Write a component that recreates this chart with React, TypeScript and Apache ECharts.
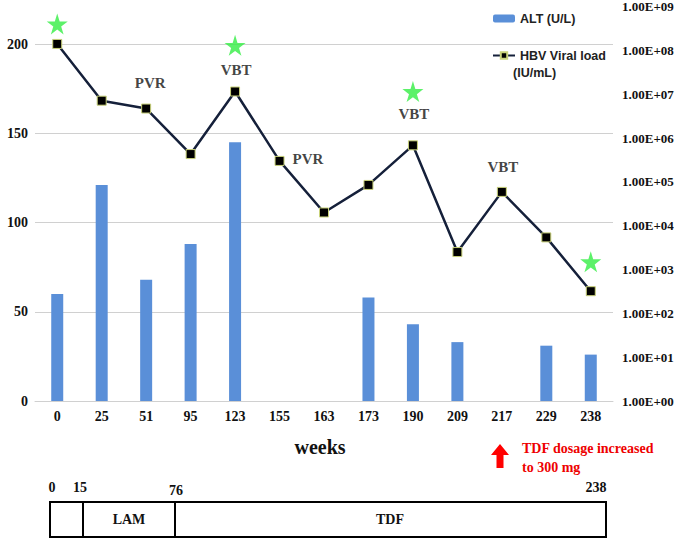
import React, { useEffect, useRef } from 'react';
import * as echarts from 'echarts';

const weeks = ['0', '25', '51', '95', '123', '155', '163', '173', '190', '209', '217', '229', '238'];
const altValues = [60, 121, 68, 88, 145, null, null, 58, 43, 33, null, 31, 26];
const viralLoad = [1.4e8, 7.1e6, 4.7e6, 4.3e5, 1.15e7, 3.0e5, 2.0e4, 8.5e4, 6.8e5, 2.5e3, 5.9e4, 5.4e3, 3.2e2];
const starWeeks = ['0', '123', '190', '238'];
const starLevels = [4.0e8, 1.3e8, 1.15e7, 1.5e3];
const noteWeeks = ['51', '123', '155', '190', '217'];
const noteTexts = ['PVR', 'VBT', 'PVR', 'VBT', 'VBT'];
const noteLevels = [1.8e7, 3.5e7, 3.3e5, 3.5e6, 2.2e5];
const timelineLabels = ['0', '15', '76', '238'];
const phaseLabels = ['LAM', 'TDF'];

const SERIF = '"Liberation Serif", "Times New Roman", serif';
const SANS = '"Liberation Sans", Arial, sans-serif';
const STAR = 'path://M50,0 L61,35 L98,35 L68,57 L79,91 L50,70 L21,91 L32,57 L2,35 L39,35 Z';
const GRID = '#d0d0d0';

export default function App() {
  const ref = useRef<HTMLDivElement>(null);
  useEffect(() => {
    const chart = echarts.init(ref.current!, null, { renderer: 'svg' });
    const tlX = [52, 80, 176, 596];
    const tlY = [487, 487, 490, 487];
    chart.setOption({
      animation: false,
      backgroundColor: '#ffffff',
      grid: { left: 35, right: 72, top: 3, bottom: 139 },
      legend: {
        orient: 'vertical',
        left: 487,
        top: 7,
        itemGap: 24,
        itemWidth: 22,
        itemHeight: 8,
        textStyle: { fontFamily: SANS, fontWeight: 'bold', fontSize: 12.5, color: '#222' },
        data: ['ALT (U/L)', 'HBV Viral load'],
      },
      xAxis: {
        type: 'category',
        data: weeks,
        axisTick: { show: false },
        axisLine: { show: true, lineStyle: { color: GRID, width: 1 } },
        axisLabel: { fontFamily: SERIF, fontWeight: 'bold', fontSize: 14, color: '#111', margin: 8 },
      },
      yAxis: [
        {
          type: 'value',
          min: 0,
          max: 221.1,
          interval: 50,
          axisLine: { show: false },
          axisTick: { show: false },
          splitLine: {
            show: true,
            lineStyle: { color: [GRID, GRID, GRID, GRID, GRID, 'rgba(0,0,0,0)'], width: 1 },
          },
          axisLabel: {
            fontFamily: SERIF, fontWeight: 'bold', fontSize: 14, color: '#111', margin: 7,
            formatter: (v: number) => (v % 50 === 0 ? String(v) : ''),
          },
        },
        {
          type: 'log',
          logBase: 10,
          min: 1,
          max: 1e9,
          splitNumber: 9,
          position: 'right',
          axisLine: { show: false },
          axisTick: { show: false },
          splitLine: { show: false },
          axisLabel: {
            fontFamily: SERIF, fontWeight: 'bold', fontSize: 13, color: '#111', margin: 9,
            formatter: (v: number) => {
              const e = Math.round(Math.log10(v));
              return '1.00E+' + String(e).padStart(2, '0');
            },
          },
        },
      ],
      series: [
        {
          name: 'ALT (U/L)',
          type: 'bar',
          yAxisIndex: 0,
          data: altValues,
          barWidth: 12,
          itemStyle: { color: '#5a8fd8' },
          z: 2,
        },
        {
          name: 'HBV Viral load',
          type: 'line',
          yAxisIndex: 1,
          data: viralLoad,
          symbol: 'rect',
          symbolSize: 9,
          lineStyle: { color: '#15203a', width: 2.5 },
          itemStyle: { color: '#000000', borderColor: '#c9d27a', borderWidth: 1 },
          z: 4,
        },
        {
          name: 'stars',
          type: 'scatter',
          yAxisIndex: 1,
          symbol: STAR,
          symbolSize: 21,
          itemStyle: { color: '#33ee44' },
          data: starWeeks.map((w, i) => [w, starLevels[i]]),
          z: 5,
        },
        {
          name: 'notes',
          type: 'scatter',
          yAxisIndex: 1,
          symbolSize: 0,
          data: noteWeeks.map((w, i) => ({
            value: [w, noteLevels[i]],
            name: noteTexts[i],
            label:
              i === 2
                ? { position: 'right', distance: 13 }
                : { position: 'inside', offset: i === 0 ? [4, 0] : [1, 0] },
          })),
          label: {
            show: true,
            formatter: (p: any) => p.name,
            fontFamily: SERIF,
            fontWeight: 'bold',
            fontSize: 15,
            color: '#111',
          },
          z: 5,
        },
      ],
      graphic: [
        {
          type: 'text', x: 513, y: 73,
          style: { text: '(IU/mL)', fontFamily: SANS, fontWeight: 'bold', fontSize: 12.5, fill: '#222', verticalAlign: 'middle' },
        },
        {
          type: 'text', x: 320, y: 447,
          style: { text: 'weeks', fontFamily: SERIF, fontWeight: 'bold', fontSize: 20, fill: '#111', align: 'center', verticalAlign: 'middle' },
        },
        {
          type: 'polygon',
          shape: { points: [[500, 444], [509, 455], [503.5, 455], [503.5, 468], [496.5, 468], [496.5, 455], [491, 455]] },
          style: { fill: '#ff0000' },
        },
        {
          type: 'text', x: 522, y: 448,
          style: { text: 'TDF dosage increased', fontFamily: SERIF, fontWeight: 'bold', fontSize: 14, fill: '#ee0000', verticalAlign: 'middle' },
        },
        {
          type: 'text', x: 522, y: 467,
          style: { text: 'to 300 mg', fontFamily: SERIF, fontWeight: 'bold', fontSize: 14, fill: '#ee0000', verticalAlign: 'middle' },
        },
        ...timelineLabels.map((t, i) => ({
          type: 'text', x: tlX[i], y: tlY[i],
          style: { text: t, fontFamily: SERIF, fontWeight: 'bold', fontSize: 14, fill: '#111', align: 'center', verticalAlign: 'middle' },
        })),
        {
          type: 'rect',
          shape: { x: 50, y: 502, width: 556, height: 35 },
          style: { fill: '#fff', stroke: '#000', lineWidth: 2 },
        },
        { type: 'line', shape: { x1: 83, y1: 502, x2: 83, y2: 537 }, style: { stroke: '#000', lineWidth: 2 } },
        { type: 'line', shape: { x1: 175, y1: 502, x2: 175, y2: 537 }, style: { stroke: '#000', lineWidth: 2 } },
        ...phaseLabels.map((t, i) => ({
          type: 'text', x: i === 0 ? 129 : 390, y: 519,
          style: { text: t, fontFamily: SERIF, fontWeight: 'bold', fontSize: 14, fill: '#111', align: 'center', verticalAlign: 'middle' },
        })),
      ],
    });
    return () => chart.dispose();
  }, []);
  return <div ref={ref} style={{ width: 685, height: 540, position: 'absolute', left: 0, top: 0 }} />;
}
